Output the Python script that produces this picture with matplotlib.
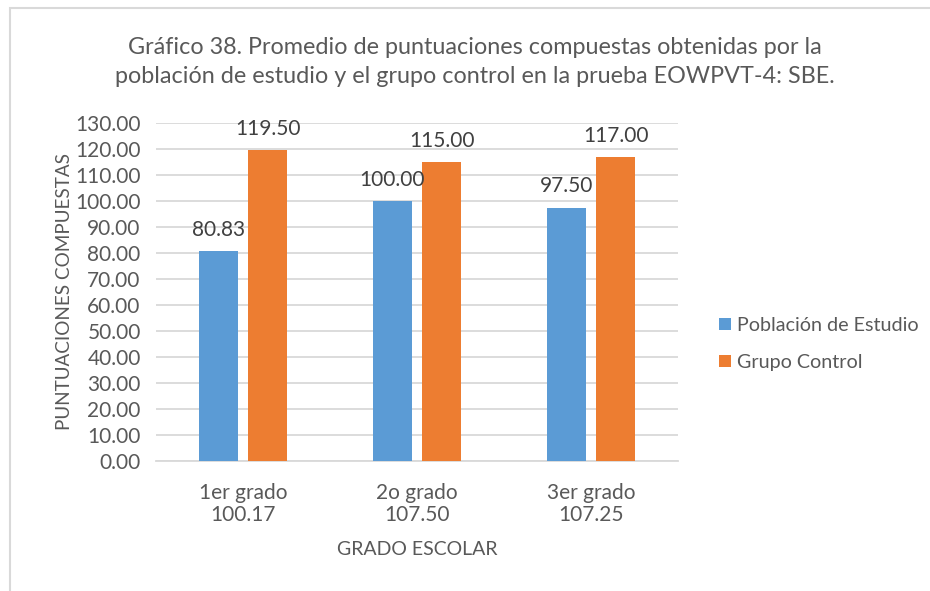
import numpy as np
import matplotlib.pyplot as plt
from matplotlib.patches import Rectangle

plt.rcParams['font.family'] = ['Lato', 'DejaVu Sans']

grados = ['1er grado\n100.17', '2o grado\n107.50', '3er grado\n107.25']
poblacion = [80.83, 100.00, 97.50]
control = [119.50, 115.00, 117.00]
yticks = np.arange(0, 131, 10)

azul = '#5B9BD5'
naranja = '#ED7D31'
texto = '#595959'

fig = plt.figure(figsize=(9.3, 5.91), dpi=100)
# plot area in pixels: x 156..678, y 123..461
ax = fig.add_axes([156 / 930, 1 - 461 / 591, 522 / 930, 338 / 591])

x = np.arange(len(grados))
w = 0.224
off = 0.141
b1 = ax.bar(x - off, poblacion, w, color=azul, label='Población de Estudio', zorder=3)
b2 = ax.bar(x + off, control, w, color=naranja, label='Grupo Control', zorder=3)

for bars in (b1, b2):
    for r in bars:
        ax.annotate(f'{r.get_height():.2f}', (r.get_x() + r.get_width() / 2, r.get_height()),
                    xytext=(0, 8), textcoords='offset points', ha='center', va='bottom',
                    fontsize=15, color='#404040')

ax.set_xlim(-0.5, 2.5)
ax.set_ylim(0, 130)
ax.set_yticks(yticks)
ax.set_yticklabels([f'{v:.2f}' for v in yticks])
ax.set_xticks(x)
ax.set_xticklabels(grados, linespacing=1.1)
ax.grid(axis='y', color='#D9D9D9', linewidth=1.3, zorder=0)
for s in ['top', 'right', 'left']:
    ax.spines[s].set_visible(False)
ax.spines['bottom'].set_color('#D9D9D9')
ax.spines['bottom'].set_linewidth(1.3)
ax.tick_params(axis='both', length=0, labelsize=15, colors=texto)
ax.tick_params(axis='y', pad=11)
ax.tick_params(axis='x', pad=16)

ax.set_xlabel('GRADO ESCOLAR', fontsize=14, color=texto, labelpad=12)
ax.set_ylabel('PUNTUACIONES COMPUESTAS', fontsize=13.6, color=texto, labelpad=1.5)

fig.text(475 / 930, 1 - 62 / 591,
         'Gráfico 38. Promedio de puntuaciones compuestas obtenidas por la\n'
         'población de estudio y el grupo control en la prueba EOWPVT-4: SBE.',
         ha='center', va='center', fontsize=16.85, color=texto, linespacing=1.45)

leg = ax.legend(loc='center left', bbox_to_anchor=(719 / 930, 1 - 344 / 591),
                bbox_transform=fig.transFigure, frameon=False, fontsize=14.2,
                handlelength=0.6, handleheight=0.6, handletextpad=0.3,
                labelspacing=1.0, borderpad=0, borderaxespad=0)
for t in leg.get_texts():
    t.set_color(texto)

fig.patches.append(Rectangle((10 / 930, -0.1), 1.0, 1.1 - 8 / 591, transform=fig.transFigure,
                             fill=False, edgecolor='#D9D9D9', linewidth=1.5))

fig.savefig('out.png', dpi=100)
